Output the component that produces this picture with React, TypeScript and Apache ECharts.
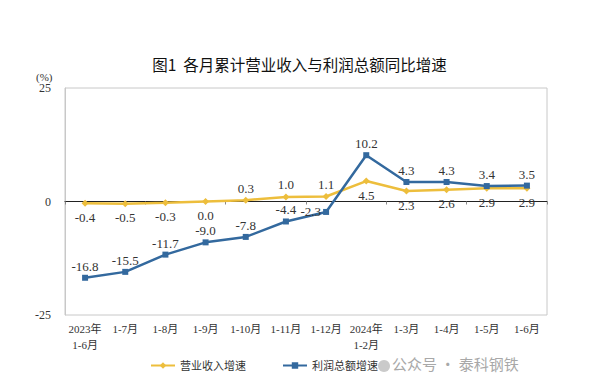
import React, { useEffect, useRef } from "react";
import * as echarts from "echarts";

const categories = [
  "2023年\n1-6月", "1-7月", "1-8月", "1-9月", "1-10月", "1-11月", "1-12月",
  "2024年\n1-2月", "1-3月", "1-4月", "1-5月", "1-6月",
];
const revenueGrowth = [-0.4, -0.5, -0.3, 0.0, 0.3, 1.0, 1.1, 4.5, 2.3, 2.6, 2.9, 2.9];
const profitGrowth = [-16.8, -15.5, -11.7, -9.0, -7.8, -4.4, -2.3, 10.2, 4.3, 4.3, 3.4, 3.5];
const revenueLabelPos = ["bottom", "bottom", "bottom", "bottom", "top", "top", "top", "bottom", "bottom", "bottom", "bottom", "bottom"];
const profitLabelPos = ["top", "top", "top", "top", "top", "top", "left", "top", "top", "top", "top", "top"];

const SERIF = "'Liberation Serif', 'Times New Roman', 'Noto Sans CJK SC', serif";
const YELLOW = "#EDBE3C";
const BLUE = "#33699E";

export default function App() {
  const ref = useRef<HTMLDivElement>(null);
  useEffect(() => {
    if (!ref.current) return;
    const chart = echarts.init(ref.current, undefined, { renderer: "svg" });
    const fmt = (v: number) => v.toFixed(1);
    chart.setOption({
      animation: false,
      backgroundColor: "#ffffff",
      title: {
        text: "图1  各月累计营业收入与利润总额同比增速",
        left: "center",
        top: 51,
        textStyle: { fontFamily: "'Noto Sans CJK SC', sans-serif", fontSize: 15.5, fontWeight: "normal", color: "#111" },
      },
      grid: { left: 65, right: 52, top: 88, bottom: 76, show: true, borderColor: "#c8c8c8", borderWidth: 1 },
      legend: {
        left: 145,
        top: 355,
        itemWidth: 24,
        itemHeight: 8,
        itemGap: 36,
        textStyle: { fontFamily: SERIF, fontSize: 11, color: "#333" },
        data: ["营业收入增速", "利润总额增速"],
      },
      xAxis: [
        {
          type: "category",
          data: categories,
          position: "bottom",
          axisLine: { show: false, onZero: false },
          axisTick: { show: false },
          axisLabel: { fontFamily: SERIF, fontSize: 11, color: "#333", margin: 6, lineHeight: 16, interval: 0 },
        },
        {
          type: "category",
          data: categories,
          position: "bottom",
          axisLine: { show: true, onZero: true, lineStyle: { color: "#222", width: 1 } },
          axisTick: { show: true, length: 3, lineStyle: { color: "#888" } },
          axisLabel: { show: false },
        },
      ],
      yAxis: {
        type: "value",
        min: -25,
        max: 25,
        interval: 25,
        axisLine: { show: true, lineStyle: { color: "#c8c8c8" } },
        axisTick: { show: false },
        splitLine: { show: false },
        axisLabel: { fontFamily: SERIF, fontSize: 12, color: "#333", margin: 14 },
      },
      graphic: [
        { type: "text", left: 36, top: 71, style: { text: "(%)", fontFamily: SERIF, fontSize: 11, fill: "#333" } },
        { type: "circle", shape: { cx: 384, cy: 366, r: 6 }, style: { fill: "#c4c4c4", opacity: 0.9 } },
        { type: "text", left: 392, top: 356, style: { text: "公众号 · 泰科钢铁", fontFamily: "'Noto Sans CJK SC', sans-serif", fontSize: 15, fill: "#a8a8a8" } },
      ],
      series: [
        {
          name: "营业收入增速",
          type: "line",
          xAxisIndex: 0,
          data: revenueGrowth.map((v, i) => ({
            value: v,
            label: { position: revenueLabelPos[i], distance: revenueLabelPos[i] === "top" ? 2 : 4 },
          })),
          symbol: "diamond",
          symbolSize: 7,
          lineStyle: { color: YELLOW, width: 2.5 },
          itemStyle: { color: YELLOW },
          label: { show: true, formatter: (p: any) => fmt(p.value), fontFamily: SERIF, fontSize: 13, color: "#333" },
          z: 2,
        },
        {
          name: "利润总额增速",
          type: "line",
          xAxisIndex: 0,
          data: profitGrowth.map((v, i) => ({ value: v, label: { position: profitLabelPos[i] } })),
          symbol: "rect",
          symbolSize: 6,
          lineStyle: { color: BLUE, width: 2.5 },
          itemStyle: { color: BLUE },
          label: { show: true, formatter: (p: any) => fmt(p.value), fontFamily: SERIF, fontSize: 13, color: "#333", distance: 2 },
          z: 3,
        },
      ],
    });
    return () => chart.dispose();
  }, []);
  return <div ref={ref} style={{ width: 599, height: 391, position: "absolute", left: 0, top: 0 }} />;
}
